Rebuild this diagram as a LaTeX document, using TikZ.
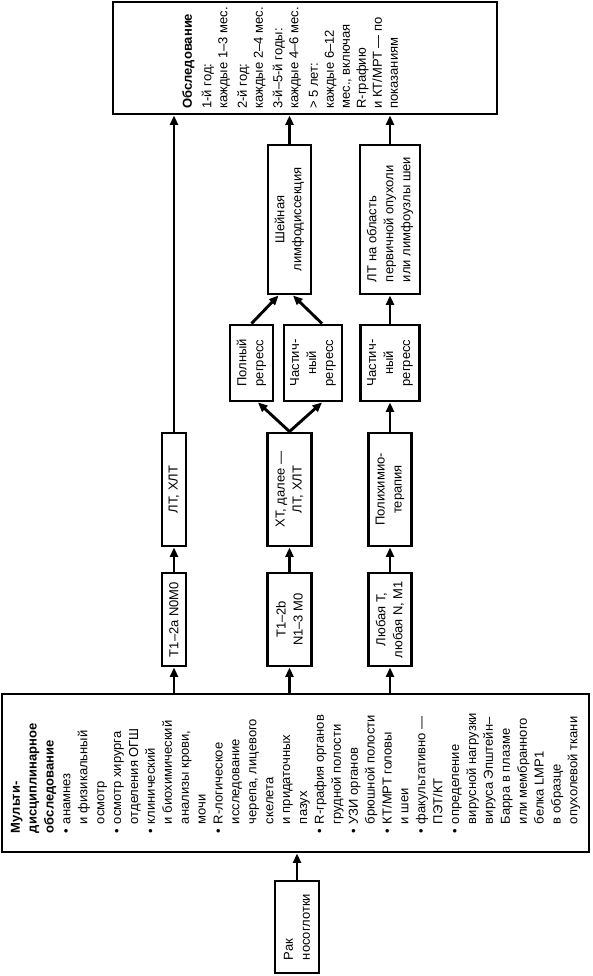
\documentclass[tikz,border=0pt]{standalone}
\usepackage{fontspec}
\setmainfont{Liberation Sans}
\usetikzlibrary{arrows.meta,calc}
\newcommand{\bul}{\makebox[9pt][l]{•}}
\newcommand{\indnt}{\hspace*{9pt}}
\tikzset{box/.style={draw,line width=2.9pt,rotate=90,align=center,inner sep=2pt,font=\fontsize{13}{17}\selectfont},
  lbox/.style={box,align=left},
  arr/.style={-{Triangle[length=9.5pt,width=8pt]},line width=2.9pt}}

\begin{document}
\begin{tikzpicture}[x=1pt,y=-1pt]
\useasboundingbox (0,0) rectangle (593,976);
\node[lbox,minimum width=112pt,minimum height=384pt,font=\fontsize{13}{16}\selectfont] (exam) at (305,58){\textbf{Обследование}\\[3.5pt]
  1-й год:\\каждые 1–3 мес.\\[3.5pt]2-й год:\\каждые 2–4 мес.\\[3.5pt]3-й–5-й годы:\\каждые 4–6 мес.\\[3.5pt]
  > 5 лет:\\каждые 6–12\\мес., включая\\R-графию\\и КТ/МРТ — по\\показаниям\rule[-30pt]{0pt}{30pt}};
\node[box,minimum width=149pt,minimum height=43pt] (neck) at (289.5,219.5){Шейная\\лимфодиссекция};
\node[lbox,minimum width=149pt,minimum height=60pt] (ltarea) at (390,219.5){ЛТ на область\\первичной опухоли\\или лимфоузлы шеи};
\node[box,minimum width=76pt,minimum height=43pt] (full) at (251.5,363){Полный\\регресс};
\node[box,minimum width=76pt,minimum height=58pt] (part2) at (313,363){Частич-\\ный\\регресс};
\node[box,minimum width=76pt,minimum height=59pt] (part3) at (390,363){Частич-\\ный\\регресс};
\node[box,minimum width=113pt,minimum height=24pt] (lt1) at (174,489.5){ЛТ, ХЛТ};
\node[box,minimum width=113pt,minimum height=44pt] (xt) at (289.5,489.5){ХТ, далее —\\ЛТ, ХЛТ};
\node[box,minimum width=113pt,minimum height=43pt] (pxt) at (390,489.5){Полихимио-\\терапия};
\node[box,minimum width=93pt,minimum height=24pt] (t1a) at (174,619.5){T1–2a N0M0};
\node[box,minimum width=93pt,minimum height=44pt] (t12b) at (289.5,619.5){T1–2b\\N1–3 M0};
\node[box,minimum width=93pt,minimum height=43pt] (tany) at (390,619.5){Любая T,\\любая N, M1};
\node[lbox,minimum width=158pt,minimum height=587pt,font=\fontsize{13}{16.9}\selectfont] (multi) at (295.5,773){\textbf{Мульти-}\\\textbf{дисциплинарное}\\\textbf{обследование}\\
  \bul анамнез\\\indnt и физикальный\\\indnt осмотр\\\bul осмотр хирурга\\\indnt отделения ОГШ\\
  \bul клинический\\\indnt и биохимический\\\indnt анализы крови,\\\indnt мочи\\
  \bul R-логическое\\\indnt исследование\\\indnt черепа, лицевого\\\indnt скелета\\\indnt и придаточных\\\indnt пазух\\
  \bul R-графия органов\\\indnt грудной полости\\\bul УЗИ органов\\\indnt брюшной полости\\
  \bul КТ/МРТ головы\\\indnt и шеи\\\bul факультативно —\\\indnt ПЭТ/КТ\\
  \bul определение\\\indnt вирусной нагрузки\\\indnt вируса Эпштейн–\\\indnt Барра в плазме\\\indnt или мембранного\\\indnt белка LMP1\\\indnt в образце\\\indnt опухолевой ткани};
\node[lbox,minimum width=92pt,minimum height=44pt] (cancer) at (297,927){Рак\\носоглотки};
\draw[arr] (cancer) -- (cancer |- multi.west);
\draw[arr] (t1a |- multi.east) -- (t1a); \draw[arr] (t12b |- multi.east) -- (t12b); \draw[arr] (tany |- multi.east) -- (tany);
\draw[arr] (t1a) -- (lt1); \draw[arr] (t12b) -- (xt); \draw[arr] (tany) -- (pxt);
\draw[arr] (lt1) -- (lt1 |- exam.west);
\draw[arr] (xt.east) -- ($(full.west)+(6.5,0)$); \draw[arr] (xt.east) -- ($(part2.west)+(9,0)$);
\draw[arr] (full.east) -- ($(neck.west)+(-11,0)$); \draw[arr] ($(part2.east)+(9,0)$) -- ($(neck.west)+(3.5,0)$);
\draw[arr] (neck) -- (neck |- exam.west);
\draw[arr] (pxt) -- (part3); \draw[arr] (part3) -- (ltarea); \draw[arr] (ltarea) -- (ltarea |- exam.west);
\end{tikzpicture}
\end{document}
